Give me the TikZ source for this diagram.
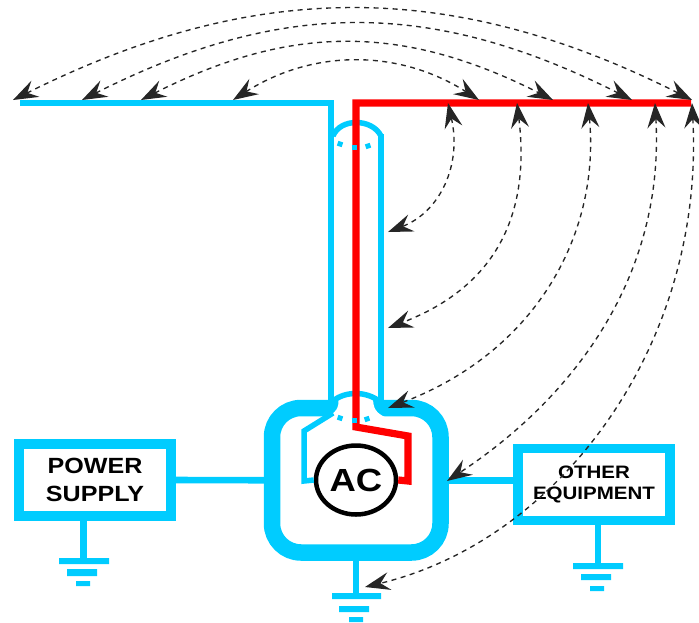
\documentclass[tikz,border=0pt]{standalone}
\usepackage{fontspec}
\setmainfont{Liberation Sans}
\newfontfamily\boxfont[FakeStretch=1.14]{Liberation Sans Bold}
\usetikzlibrary{arrows.meta,shapes.geometric}
\definecolor{cab}{RGB}{0,204,255}
\definecolor{live}{RGB}{255,0,0}
\tikzset{
 x=1pt,y=-1pt,
 shield/.style={draw=cab,line width=6.6pt,line join=miter},
 livewire/.style={draw=live,line width=7.2pt,line join=miter},
 plate/.style={fill=cab,draw=none},
 equip/.style={draw=cab,line width=9.6pt,fill=white,inner sep=0pt,outer sep=0pt,align=center,font=\boxfont},
 flow/.style={draw=black!85,line width=1.35pt,dash pattern=on 5pt off 4.5pt,
   {Stealth[length=25pt,width=18pt,inset=9pt]}-{Stealth[length=25pt,width=18pt,inset=9pt]}},
 dome/.style={draw=cab,line width=5.5pt},
 dot/.style={draw=cab,line width=5pt},
}
\begin{document}
\begin{tikzpicture}
\useasboundingbox (0,0) rectangle (699,622);
% enclosure
\node[draw=cab,line width=16.5pt,rounded corners=29pt,minimum width=168.5pt,minimum height=144.5pt,inner sep=0pt,outer sep=0pt] (encl) at (356.25,480.25) {};
\node[equip,minimum width=152pt,minimum height=72pt,font=\boxfont\fontsize{22}{28}\selectfont] (ps) at (95,480) {POWER\\SUPPLY};
\node[equip,minimum width=152pt,minimum height=72pt,font=\boxfont\fontsize{18}{21.5}\selectfont] (oe) at (594,484.5) {OTHER\\EQUIPMENT};
% cable
\coordinate (wl) at (20,103);
\coordinate (wr) at (691,103);
\coordinate (cl) at (331,401);
\coordinate (cr) at (381,401);
\draw[shield] (wl) -- (331,103) -- (cl);
\draw[shield] (381,134) -- (cr);
\fill[white] (338,398) .. controls (340,408) and (335,413) .. (327,417) -- (385,417) .. controls (376,413) and (373,408) .. (373,398) -- cycle;
\draw[dome] (333,136) .. controls (340,118) and (372,118) .. (381,136);
\draw[dome] (333,401) .. controls (345,391) and (366,391) .. (379,401);
% inner wiring
\node[draw=black,line width=4.5pt,ellipse,minimum width=80pt,minimum height=69pt,inner sep=0pt,fill=white,font=\boxfont\fontsize{32}{32}\selectfont] (ac) at (356,480) {AC};
\draw[shield,line width=5.5pt] (333,413) -- (304,431) -- (304,481) -- (ac.west);
\draw[livewire] (wr) -- (356,103) -- (356,427) -- (408,436) -- (408,481) -- (ac.east);
\draw[dot] (337.6,143.2) -- (342.4,144.8);
\draw[dot] (351.5,147) -- (356.5,147);
\draw[dot] (365.6,146.8) -- (370.4,145.2);
\draw[dot] (337.6,417.2) -- (342.4,418.8);
\draw[dot] (351.5,420) -- (356.5,420);
\draw[dot] (364.6,419.8) -- (369.4,418.2);
% stubs
\draw[shield] (ps.east) -- (encl.west);
\draw[shield] (encl.east) -- (oe.west |- encl.east);
% grounds
\coordinate (g1) at (83.5,561);
\coordinate (g2) at (598,566);
\coordinate (g3) at (356,596);
\draw[shield] (ps.south -| g1) -- (g1);
\draw[shield] (oe.south -| g2) -- (g2);
\draw[shield] (encl.south -| g3) -- (g3);
\fill[plate] (59,558) rectangle (109,564) (67,569) rectangle (97,576) (76,581) rectangle (90,586);
\fill[plate] (573,563) rectangle (623,569) (581,574) rectangle (611,580) (590,586) rectangle (604,591);
\fill[plate] (332,593) rectangle (381,599) (339,606) rectangle (369,612) (349,617) rectangle (363,622);
% arrow ends
\coordinate (la) at (13,100);  \coordinate (ra) at (692,100);
\coordinate (lb) at (82,100);  \coordinate (rb) at (632,100);
\coordinate (lc) at (141,100); \coordinate (rc) at (553,100);
\coordinate (ld) at (233,100); \coordinate (rd) at (479,100);
\coordinate (ta) at (448,103); \coordinate (tb) at (517,103);
\coordinate (tc) at (588,103); \coordinate (td) at (655,103);
\coordinate (te) at (692,103);
\coordinate (ea) at (388,232); \coordinate (eb) at (388,328);
\coordinate (ec) at (388,408); \coordinate (ed) at (447,481);
\coordinate (ee) at (365,587);
\draw[flow] (la) .. controls (255,-21) and (452,-21) .. (ra);
\draw[flow] (lb) .. controls (282,-1) and (432,-1) .. (rb);
\draw[flow] (lc) .. controls (291,24) and (403,24) .. (rc);
\draw[flow] (ld) .. controls (313,49) and (399,49) .. (rd);
\draw[flow] (ta) .. controls (462,165) and (440,212) .. (ea);
\draw[flow] (tb) .. controls (530,210) and (500,285) .. (eb);
\draw[flow] (tc) .. controls (600,230) and (540,350) .. (ec);
\draw[flow] (td) .. controls (665,280) and (570,400) .. (ed);
\draw[flow] (te) .. controls (705,345) and (560,540) .. (ee);
\end{tikzpicture}
\end{document}
